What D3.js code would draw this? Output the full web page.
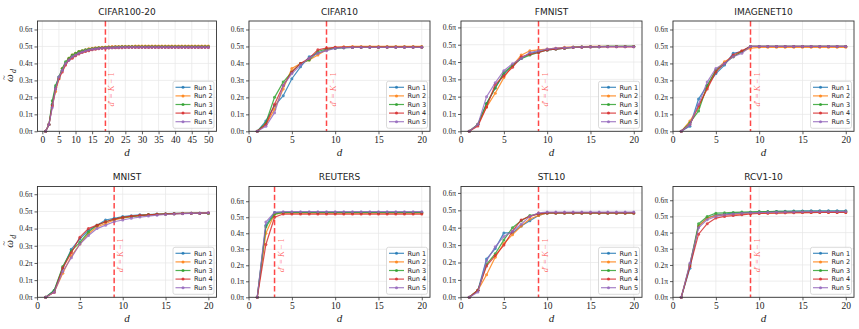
<!DOCTYPE html>
<html>
<head>
<meta charset="utf-8">
<script src="https://cdn.jsdelivr.net/npm/d3@7"></script>
<style>
  body { margin: 0; background: #fff; }
  svg { display: block; }
</style>
</head>
<body>
<svg id="chart" width="859" height="329"></svg>
<script>
const runNames = ["Run 1", "Run 2", "Run 3", "Run 4", "Run 5"];
const runColors = ["#1f77b4", "#ff7f0e", "#2ca02c", "#d62728", "#9467bd"];
const titles = ["CIFAR100-20", "CIFAR10", "FMNIST", "IMAGENET10", "MNIST", "REUTERS", "STL10", "RCV1-10"];
const dPrime = [19, 9, 9, 9, 9, 3, 9, 9];
const yTop = [0.65, 0.65, 0.637, 0.65, 0.645, 0.692, 0.637, 0.685];
const yTicks = [0, 0.1, 0.2, 0.3, 0.4, 0.5, 0.6];
const xTicks50 = [0, 5, 10, 15, 20, 25, 30, 35, 40, 45, 50];
const xTicks20 = [0, 5, 10, 15, 20];

// omega_d per run, d = 1..50
const cifar100 = [
  [0,0.04,0.16,0.26,0.32,0.36,0.40,0.42,0.44,0.45, 0.46,0.47,0.475,0.48,0.485,0.488,0.49,0.492,0.494,0.495,
   0.496,0.497,0.497,0.498,0.498,0.498,0.499,0.499,0.499,0.499, 0.499,0.5,0.5,0.5,0.5,0.5,0.5,0.5,0.5,0.5,
   0.5,0.5,0.5,0.5,0.5,0.5,0.5,0.5,0.5,0.5],
  [0,0.04,0.15,0.235,0.31,0.37,0.40,0.43,0.45,0.46, 0.47,0.475,0.48,0.486,0.49,0.492,0.494,0.496,0.497,0.498,
   0.499,0.5,0.5,0.501,0.501,0.501,0.501,0.502,0.502,0.502, 0.502,0.502,0.502,0.502,0.502,0.502,0.502,0.502,0.502,0.502,
   0.502,0.502,0.502,0.502,0.502,0.502,0.502,0.502,0.502,0.502],
  [0,0.04,0.18,0.27,0.32,0.37,0.41,0.43,0.45,0.46, 0.47,0.475,0.48,0.484,0.487,0.49,0.492,0.493,0.494,0.495,
   0.496,0.497,0.497,0.498,0.498,0.498,0.498,0.498,0.498,0.498, 0.498,0.498,0.498,0.498,0.498,0.498,0.498,0.498,0.498,0.498,
   0.498,0.498,0.498,0.498,0.498,0.498,0.498,0.498,0.498,0.498],
  [0,0.04,0.15,0.25,0.31,0.35,0.39,0.42,0.43,0.445, 0.455,0.465,0.47,0.475,0.48,0.484,0.487,0.489,0.49,0.491,
   0.492,0.492,0.493,0.493,0.494,0.494,0.494,0.494,0.494,0.494, 0.494,0.494,0.494,0.494,0.494,0.494,0.494,0.494,0.494,0.494,
   0.494,0.494,0.494,0.494,0.494,0.494,0.494,0.494,0.494,0.494],
  [0,0.04,0.14,0.25,0.32,0.36,0.40,0.42,0.44,0.45, 0.46,0.468,0.474,0.479,0.483,0.486,0.488,0.49,0.491,0.492,
   0.493,0.494,0.494,0.495,0.495,0.495,0.495,0.495,0.495,0.495, 0.495,0.495,0.495,0.495,0.495,0.495,0.495,0.495,0.495,0.495,
   0.495,0.495,0.495,0.495,0.495,0.495,0.495,0.495,0.495,0.495]
];

// omega_d per run, d = 1..20
const cifar10 = [
  [0,0.06,0.15,0.21,0.31,0.38,0.44,0.46,0.48,0.49, 0.493,0.495,0.496,0.497,0.497,0.498,0.498,0.498,0.498,0.498],
  [0,0.04,0.13,0.25,0.37,0.40,0.42,0.45,0.48,0.495, 0.498,0.5,0.5,0.5,0.5,0.5,0.5,0.5,0.5,0.5],
  [0,0.05,0.20,0.29,0.35,0.40,0.42,0.47,0.485,0.49, 0.493,0.494,0.495,0.495,0.495,0.495,0.495,0.495,0.495,0.495],
  [0,0.04,0.16,0.27,0.35,0.40,0.43,0.48,0.49,0.495, 0.496,0.496,0.496,0.496,0.496,0.496,0.496,0.496,0.496,0.496],
  [0,0.03,0.11,0.27,0.34,0.39,0.43,0.46,0.475,0.49, 0.493,0.494,0.495,0.495,0.495,0.495,0.495,0.495,0.495,0.495]
];
const fmnist = [
  [0,0.04,0.16,0.25,0.33,0.38,0.42,0.45,0.46,0.47, 0.475,0.48,0.485,0.487,0.488,0.489,0.49,0.49,0.49,0.49],
  [0,0.04,0.14,0.22,0.31,0.38,0.44,0.465,0.47,0.475, 0.48,0.485,0.487,0.489,0.49,0.49,0.49,0.49,0.49,0.49],
  [0,0.04,0.16,0.25,0.34,0.38,0.42,0.44,0.455,0.47, 0.475,0.48,0.485,0.487,0.488,0.489,0.49,0.49,0.49,0.49],
  [0,0.03,0.14,0.27,0.32,0.37,0.43,0.445,0.455,0.47, 0.475,0.48,0.484,0.486,0.487,0.488,0.488,0.488,0.488,0.488],
  [0,0.04,0.20,0.28,0.35,0.39,0.42,0.455,0.465,0.475, 0.48,0.483,0.485,0.487,0.488,0.489,0.489,0.489,0.489,0.489]
];
const imagenet10 = [
  [0,0.03,0.19,0.27,0.34,0.39,0.46,0.47,0.50,0.50, 0.50,0.50,0.50,0.50,0.50,0.50,0.50,0.50,0.50,0.50],
  [0,0.06,0.14,0.26,0.36,0.41,0.44,0.47,0.49,0.495, 0.495,0.495,0.495,0.495,0.495,0.495,0.495,0.495,0.495,0.495],
  [0,0.05,0.12,0.27,0.36,0.40,0.44,0.47,0.50,0.50, 0.50,0.50,0.50,0.50,0.50,0.50,0.50,0.50,0.50,0.50],
  [0,0.04,0.15,0.25,0.35,0.40,0.45,0.475,0.50,0.50, 0.50,0.50,0.50,0.50,0.50,0.50,0.50,0.50,0.50,0.50],
  [0,0.04,0.16,0.29,0.37,0.40,0.44,0.46,0.50,0.50, 0.50,0.50,0.50,0.50,0.50,0.50,0.50,0.50,0.50,0.50]
];
const mnist = [
  [0,0.04,0.17,0.28,0.34,0.39,0.42,0.45,0.46,0.47, 0.475,0.48,0.482,0.485,0.487,0.488,0.489,0.49,0.49,0.49],
  [0,0.03,0.14,0.24,0.31,0.37,0.41,0.43,0.45,0.46, 0.47,0.475,0.48,0.483,0.485,0.487,0.488,0.489,0.49,0.49],
  [0,0.04,0.18,0.27,0.32,0.38,0.42,0.44,0.455,0.465, 0.47,0.475,0.48,0.483,0.485,0.487,0.488,0.489,0.49,0.49],
  [0,0.03,0.17,0.26,0.35,0.40,0.42,0.44,0.455,0.465, 0.472,0.477,0.48,0.483,0.485,0.487,0.488,0.489,0.49,0.492],
  [0,0.03,0.15,0.23,0.31,0.36,0.40,0.42,0.44,0.45, 0.46,0.467,0.473,0.478,0.482,0.485,0.487,0.489,0.49,0.492]
];
const reuters = [
  [0,0.45,0.53,0.53,0.53,0.53,0.53,0.53,0.53,0.53, 0.53,0.53,0.53,0.53,0.53,0.53,0.53,0.53,0.53,0.53],
  [0,0.40,0.52,0.525,0.525,0.525,0.525,0.525,0.525,0.525, 0.525,0.525,0.525,0.525,0.525,0.525,0.525,0.525,0.525,0.525],
  [0,0.44,0.52,0.53,0.53,0.53,0.53,0.53,0.53,0.53, 0.53,0.53,0.53,0.53,0.53,0.53,0.53,0.53,0.53,0.53],
  [0,0.33,0.50,0.52,0.52,0.52,0.52,0.52,0.52,0.52, 0.52,0.52,0.52,0.52,0.52,0.52,0.52,0.52,0.52,0.52],
  [0,0.47,0.53,0.535,0.535,0.535,0.535,0.535,0.535,0.535, 0.535,0.535,0.535,0.535,0.535,0.535,0.535,0.535,0.535,0.535]
];
const stl10 = [
  [0,0.04,0.22,0.28,0.37,0.37,0.41,0.44,0.47,0.485, 0.485,0.485,0.485,0.485,0.485,0.485,0.485,0.485,0.485,0.485],
  [0,0.04,0.13,0.23,0.31,0.36,0.41,0.45,0.47,0.485, 0.485,0.485,0.485,0.485,0.485,0.485,0.485,0.485,0.485,0.485],
  [0,0.04,0.19,0.25,0.33,0.40,0.44,0.47,0.48,0.485, 0.485,0.485,0.485,0.485,0.485,0.485,0.485,0.485,0.485,0.485],
  [0,0.04,0.18,0.24,0.30,0.38,0.445,0.465,0.48,0.485, 0.485,0.485,0.485,0.485,0.485,0.485,0.485,0.485,0.485,0.485],
  [0,0.03,0.21,0.29,0.35,0.38,0.42,0.465,0.485,0.49, 0.49,0.49,0.49,0.49,0.49,0.49,0.49,0.49,0.49,0.49]
];
const rcv1 = [
  [0,0.18,0.44,0.49,0.51,0.515,0.52,0.522,0.525,0.527, 0.529,0.531,0.532,0.533,0.534,0.535,0.535,0.535,0.535,0.535],
  [0,0.20,0.44,0.49,0.505,0.51,0.513,0.516,0.518,0.52, 0.521,0.522,0.523,0.524,0.524,0.525,0.525,0.525,0.525,0.525],
  [0,0.20,0.455,0.50,0.52,0.522,0.525,0.527,0.528,0.53, 0.53,0.531,0.531,0.532,0.532,0.532,0.532,0.532,0.532,0.532],
  [0,0.19,0.39,0.455,0.49,0.50,0.505,0.51,0.515,0.518, 0.52,0.521,0.522,0.523,0.524,0.524,0.525,0.525,0.525,0.525],
  [0,0.21,0.43,0.48,0.50,0.51,0.515,0.52,0.522,0.524, 0.525,0.526,0.527,0.528,0.529,0.53,0.53,0.53,0.53,0.53]
];
const panelData = [cifar100, cifar10, fmnist, imagenet10, mnist, reuters, stl10, rcv1];

const svg = d3.select("#chart");
const serif = "'Liberation Serif', 'DejaVu Serif', serif";
const sans = "'DejaVu Sans', sans-serif";

const lefts = [37.5, 249, 461, 673];
const rights = [216.5, 430, 642, 854];
const tops = [21, 186.5];
const bottoms = [131.3, 297.3];

function drawPanel(i) {
  const col = i % 4, row = Math.floor(i / 4);
  const box = { l: lefts[col], r: rights[col], t: tops[row], b: bottoms[row] };
  const runs = panelData[i];
  const n = runs[0].length;
  const pad = (n - 1) * 0.05;
  const x = d3.scaleLinear().domain([1 - pad, n + pad]).range([box.l, box.r]);
  const y = d3.scaleLinear().domain([0, yTop[i]]).range([box.b, box.t]);
  const xt = n > 20 ? xTicks50 : xTicks20;
  const g = svg.append("g");

  // grid
  g.append("g").selectAll("line").data(xt).join("line")
    .attr("x1", d => x(d)).attr("x2", d => x(d))
    .attr("y1", box.t).attr("y2", box.b)
    .attr("stroke", "#e6e6e6").attr("stroke-width", 0.7);
  g.append("g").selectAll("line").data(yTicks).join("line")
    .attr("x1", box.l).attr("x2", box.r)
    .attr("y1", d => y(d)).attr("y2", d => y(d))
    .attr("stroke", "#e6e6e6").attr("stroke-width", 0.7);

  // axes
  const xAxis = g.append("g").attr("transform", `translate(0,${box.b})`)
    .call(d3.axisBottom(x).tickValues(xt).tickSize(3).tickPadding(2).tickFormat(d3.format("d")));
  xAxis.select(".domain").remove();
  xAxis.selectAll("line").attr("stroke", "#333").attr("stroke-width", 0.8);
  xAxis.selectAll("text").attr("font-family", serif).attr("font-size", 9.5).attr("fill", "#222");

  const yAxis = g.append("g").attr("transform", `translate(${box.l},0)`)
    .call(d3.axisLeft(y).tickValues(yTicks).tickSize(3).tickPadding(2).tickFormat(d => d3.format(".1f")(d) + "π"));
  yAxis.select(".domain").remove();
  yAxis.selectAll("line").attr("stroke", "#333").attr("stroke-width", 0.8);
  yAxis.selectAll("text").attr("font-family", serif).attr("font-size", 7.5).attr("fill", "#222");

  // vertical d' = K - 1 line
  g.append("line")
    .attr("x1", x(dPrime[i])).attr("x2", x(dPrime[i]))
    .attr("y1", box.t).attr("y2", box.b)
    .attr("stroke", "red").attr("stroke-opacity", 0.72)
    .attr("stroke-width", 1.5).attr("stroke-dasharray", "5.5,2.8");
  const lab = g.append("text")
    .attr("transform", `translate(${x(dPrime[i]) + 9},${box.b - (box.b - box.t) * 0.38}) rotate(-90)`)
    .attr("text-anchor", "middle")
    .attr("font-family", serif).attr("font-size", 8.5)
    .attr("fill", "red").attr("fill-opacity", 0.6);
  lab.append("tspan").attr("font-style", "italic").text("d");
  lab.append("tspan").text("′ = ");
  lab.append("tspan").attr("font-style", "italic").text("K");
  lab.append("tspan").text(" − 1");

  // run lines
  const line = d3.line().x((d, k) => x(k + 1)).y(d => y(d));
  runs.forEach((vals, r) => {
    const s = g.append("g").attr("opacity", 0.82);
    s.append("path").datum(vals).attr("d", line)
      .attr("fill", "none").attr("stroke", runColors[r]).attr("stroke-width", 1.2);
    s.selectAll("circle").data(vals).join("circle")
      .attr("cx", (d, k) => x(k + 1)).attr("cy", d => y(d))
      .attr("r", 1.5).attr("fill", runColors[r]);
  });

  // spines
  g.append("rect")
    .attr("x", box.l).attr("y", box.t)
    .attr("width", box.r - box.l).attr("height", box.b - box.t)
    .attr("fill", "none").attr("stroke", "#333").attr("stroke-width", 0.9);

  // legend
  const lw = 41, lh = 47;
  const lx = box.r - 2.5 - lw, ly = box.b - 3 - lh;
  const leg = g.append("g");
  leg.append("rect").attr("x", lx).attr("y", ly).attr("width", lw).attr("height", lh)
    .attr("rx", 2).attr("fill", "#fff").attr("fill-opacity", 0.85)
    .attr("stroke", "#ccc").attr("stroke-width", 0.7);
  runNames.forEach((name, r) => {
    const yy = ly + 6 + r * 8.6;
    leg.append("line").attr("x1", lx + 2.5).attr("x2", lx + 17.5)
      .attr("y1", yy).attr("y2", yy)
      .attr("stroke", runColors[r]).attr("stroke-width", 1.2).attr("opacity", 0.82);
    leg.append("circle").attr("cx", lx + 10).attr("cy", yy).attr("r", 1.5)
      .attr("fill", runColors[r]).attr("opacity", 0.82);
    leg.append("text").attr("x", lx + 21).attr("y", yy + 2.3)
      .attr("font-family", sans).attr("font-size", 6.5).attr("fill", "#222").text(name);
  });

  // title and labels
  g.append("text").attr("x", (box.l + box.r) / 2).attr("y", box.t - 6.5)
    .attr("text-anchor", "middle").attr("font-family", sans).attr("font-size", 9)
    .attr("fill", "#222").text(titles[i]);
  g.append("text").attr("x", (box.l + box.r) / 2).attr("y", box.b + 25)
    .attr("text-anchor", "middle").attr("font-family", serif).attr("font-style", "italic")
    .attr("font-size", 11).attr("fill", "#222").text("d");
  if (col === 0) {
    const yl = g.append("g")
      .attr("transform", `translate(13,${(box.t + box.b) / 2}) rotate(-90)`)
      .attr("font-family", serif).attr("fill", "#222");
    yl.append("text").attr("x", -2).attr("y", 0).attr("text-anchor", "middle")
      .attr("font-style", "italic").attr("font-size", 11).text("ω");
    yl.append("text").attr("x", -1.5).attr("y", -6.2).attr("text-anchor", "middle")
      .attr("font-size", 8).text("~");
    yl.append("text").attr("x", 3.2).attr("y", 2.5)
      .attr("font-style", "italic").attr("font-size", 8).text("d");
  }
}

titles.forEach((t, i) => drawPanel(i));
</script>
</body>
</html>
